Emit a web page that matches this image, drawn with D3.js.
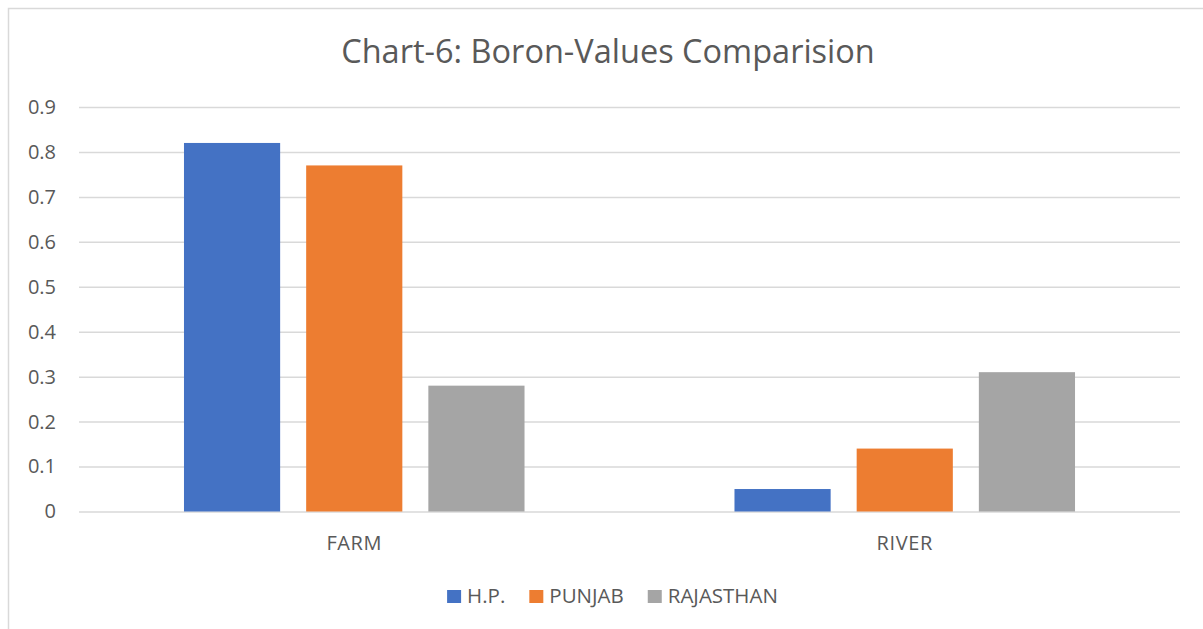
<!DOCTYPE html>
<html>
<head>
<meta charset="utf-8">
<script src="https://cdn.jsdelivr.net/npm/d3@7"></script>
<style>
  html, body { margin: 0; padding: 0; background: #fff; }
  svg { display: block; }
</style>
</head>
<body>
<svg id="chart" width="1203" height="629"></svg>
<script>
const title = "Chart-6: Boron-Values Comparision";
const categories = ["FARM", "RIVER"];
const seriesNames = ["H.P.", "PUNJAB", "RAJASTHAN"];
const hpValues = [0.82, 0.05];
const punjabValues = [0.77, 0.14];
const rajasthanValues = [0.28, 0.31];
const yTicks = [0, 0.1, 0.2, 0.3, 0.4, 0.5, 0.6, 0.7, 0.8, 0.9];
const colors = ["#4472C4", "#ED7D31", "#A5A5A5"];

const seriesValues = [hpValues, punjabValues, rajasthanValues];
const data = categories.map((c, i) => ({
  category: c,
  values: seriesNames.map((s, j) => ({ series: s, value: seriesValues[j][i], color: colors[j] }))
}));

const FONT = "'Open Sans', 'DejaVu Sans', sans-serif";
const TEXT = "#595959";
const GRID = "#D9D9D9";

const svg = d3.select("#chart");
const W = 1203, H = 629;
const plot = { left: 79, right: 1180, top: 107, bottom: 511.5 };

// chart border
svg.append("rect")
  .attr("x", 8.5).attr("y", 8.5)
  .attr("width", W + 10).attr("height", H + 10)
  .attr("fill", "#fff").attr("stroke", GRID).attr("stroke-width", 1.5);

const y = d3.scaleLinear().domain([0, 0.9]).range([plot.bottom, plot.top]);
const x0 = d3.scaleBand().domain(categories).range([plot.left, plot.right]).padding(0);
const outer = x0.bandwidth() * 0.1907;
const x1 = d3.scaleBand().domain(seriesNames)
  .range([outer, x0.bandwidth() - outer]).paddingInner(0.213).paddingOuter(0);

// gridlines
const yAxis = d3.axisLeft(y).tickValues(yTicks)
  .tickSize(-(plot.right - plot.left))
  .tickPadding(23)
  .tickFormat(d => d === 0 ? "0" : d3.format(".1f")(d));

const gy = svg.append("g").attr("transform", `translate(${plot.left},0)`).call(yAxis);
gy.select(".domain").remove();
gy.selectAll(".tick line").attr("stroke", GRID).attr("stroke-width", 1.5);
gy.selectAll(".tick text")
  .attr("fill", TEXT).style("font-family", FONT).style("font-size", "20px");

// bars
const groups = svg.append("g").selectAll("g").data(data).join("g")
  .attr("transform", d => `translate(${x0(d.category)},0)`);
groups.selectAll("rect").data(d => d.values).join("rect")
  .attr("x", d => x1(d.series))
  .attr("width", x1.bandwidth())
  .attr("y", d => y(d.value))
  .attr("height", d => y(0) - y(d.value))
  .attr("fill", d => d.color);

// x axis labels
const xAxis = d3.axisBottom(x0).tickSize(0).tickPadding(24);
const gx = svg.append("g").attr("transform", `translate(0,${plot.bottom})`).call(xAxis);
gx.select(".domain").remove();
gx.selectAll(".tick text")
  .attr("fill", TEXT).style("font-family", FONT).style("font-size", "20px")
  .style("letter-spacing", "0.6px");

// title
svg.append("text")
  .attr("x", 608).attr("y", 63)
  .attr("text-anchor", "middle")
  .attr("fill", TEXT)
  .style("font-family", FONT).style("font-size", "32.5px")
  .text(title);

// legend
const legend = svg.append("g");
let cx = 0;
seriesNames.forEach((s, i) => {
  const g = legend.append("g");
  g.append("rect").attr("x", 0).attr("y", -13).attr("width", 14).attr("height", 13).attr("fill", colors[i]);
  const t = g.append("text").attr("x", 20).attr("y", 0)
    .attr("fill", TEXT).style("font-family", FONT).style("font-size", "20.5px").text(s);
  const w = 20 + t.node().getComputedTextLength();
  g.attr("transform", `translate(${cx},0)`);
  cx += w + 24;
});
const totalW = cx - 24;
legend.attr("transform", `translate(${612.5 - totalW / 2},603)`);
</script>
</body>
</html>
